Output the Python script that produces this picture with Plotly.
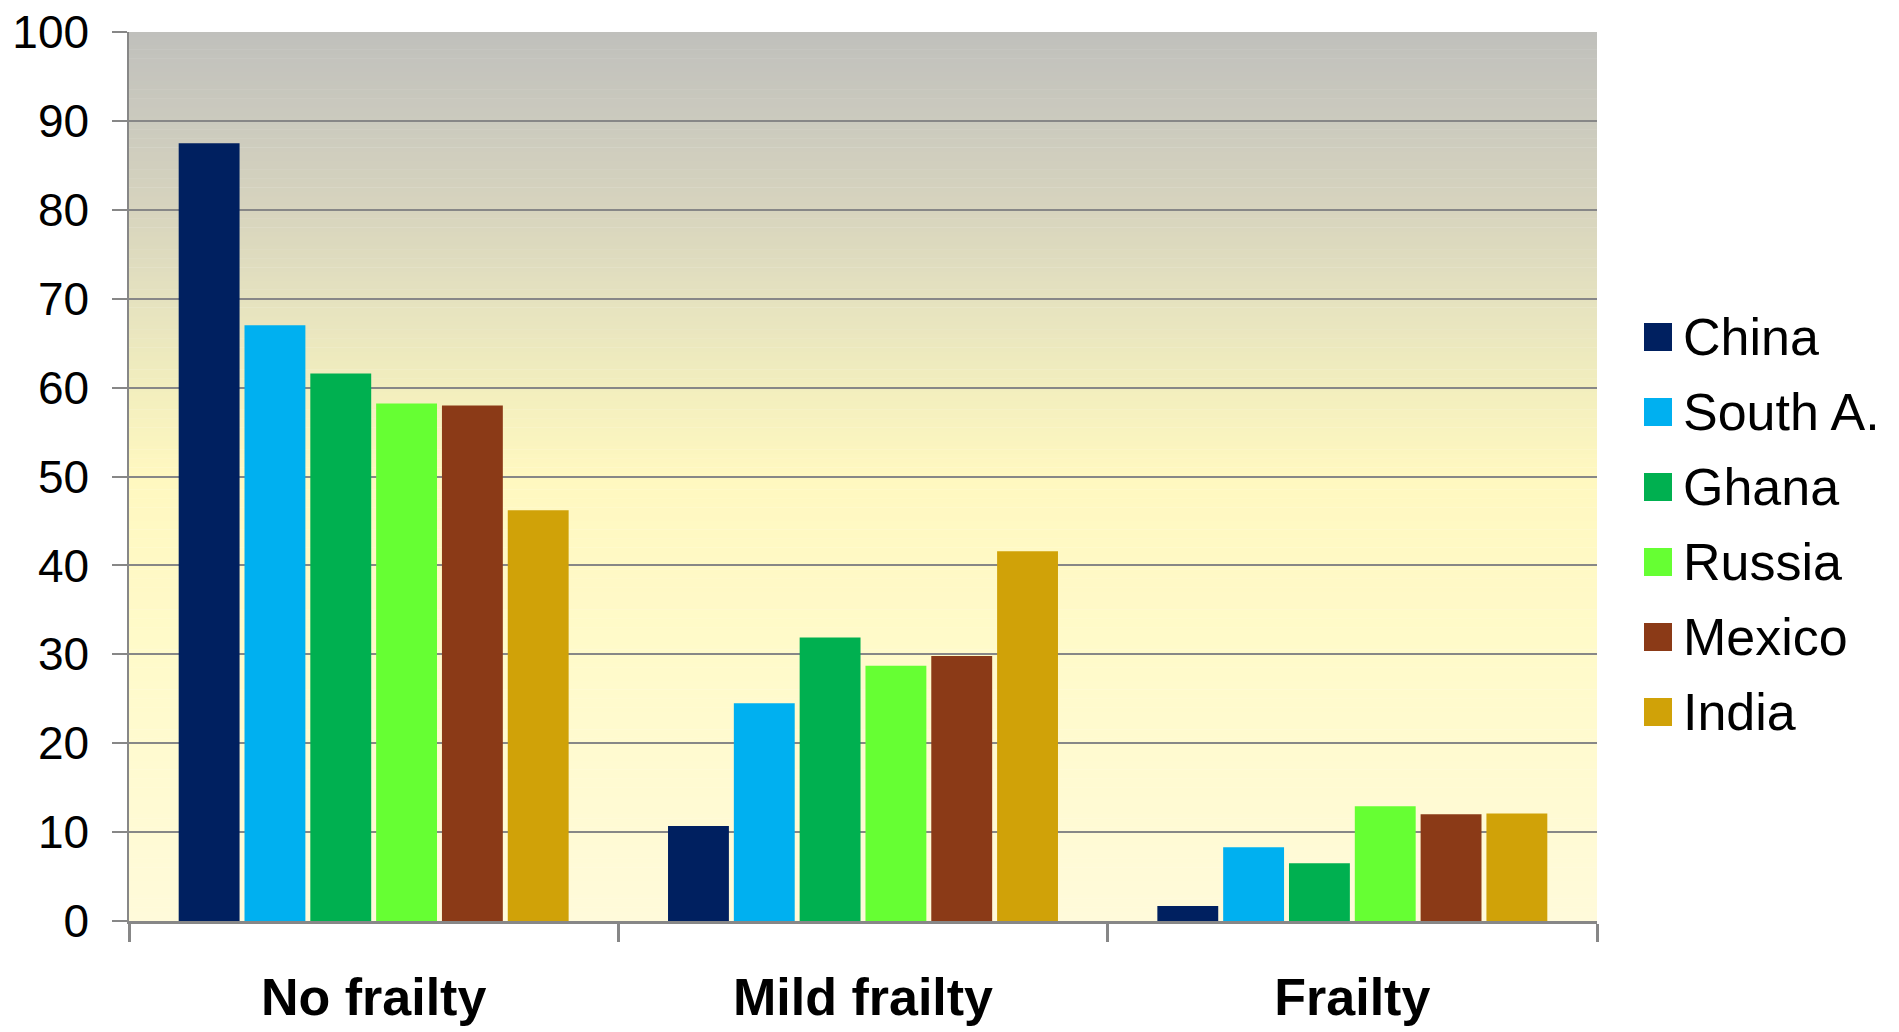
import plotly.graph_objects as go

categories = ["No frailty", "Mild frailty", "Frailty"]
countries = ["China", "South A.", "Ghana", "Russia", "Mexico", "India"]
china = [87.5, 10.7, 1.7]
south_a = [67.0, 24.5, 8.3]
ghana = [61.6, 31.9, 6.5]
russia = [58.2, 28.7, 12.9]
mexico = [58.0, 29.8, 12.0]
india = [46.2, 41.6, 12.1]
series = [china, south_a, ghana, russia, mexico, india]
colors = ["#002060", "#00B0F0", "#00B050", "#66FF33", "#8B3A17", "#D0A208"]
y_ticks = [0, 10, 20, 30, 40, 50, 60, 70, 80, 90, 100]

W, H = 1899, 1032
ML, MR, MT, MB = 129, 302, 32, 111

fig = go.Figure()
for name, vals, col in zip(countries, series, colors):
    fig.add_trace(go.Bar(x=categories, y=vals, name=name, marker_color=col,
                         marker_line_width=0, showlegend=False))

# gradient background (style only)
stops = [(0, (255, 250, 218)), (30, (255, 250, 202)), (50, (255, 248, 192)),
         (60, (242, 238, 190)), (70, (229, 226, 191)), (80, (215, 212, 190)),
         (90, (203, 202, 190)), (100, (192, 192, 188))]

def interp(v):
    for (a, ca), (b, cb) in zip(stops[:-1], stops[1:]):
        if a <= v <= b:
            t = (v - a) / (b - a)
            return tuple(round(ca[i] + (cb[i] - ca[i]) * t) for i in range(3))
    return stops[-1][1]

shapes = []
step = 0.5
v = 0.0
while v < 100:
    c = interp(v + step / 2)
    shapes.append(dict(type="rect", xref="paper", yref="y", x0=0, x1=1, y0=v, y1=v + step + 0.05,
                       fillcolor="rgb(%d,%d,%d)" % c, line_width=0, layer="below"))
    v += step

# manual legend
pw = W - ML - MR
ph = H - MT - MB
annotations = []
row0 = 337
row_step = 75
for i, (name, col) in enumerate(zip(countries, colors)):
    yc = row0 + i * row_step
    yp = (H - MB - yc) / ph
    xs = (1658 - ML) / pw
    shapes.append(dict(type="rect", xref="paper", yref="paper", xsizemode="pixel", ysizemode="pixel",
                       xanchor=xs, yanchor=yp, x0=-14, x1=14, y0=-14, y1=14,
                       fillcolor=col, line_width=0))
    annotations.append(dict(xref="paper", yref="paper", x=(1681 - ML) / pw, y=yp,
                            xanchor="left", yanchor="middle", text=name, showarrow=False,
                            font=dict(family="Liberation Sans, Arial", size=52, color="black")))

fig.update_layout(
    width=W, height=H,
    margin=dict(l=ML, r=MR, t=MT, b=MB, pad=0),
    paper_bgcolor="white", plot_bgcolor="white",
    barmode="group", bargap=0.193, bargroupgap=0.075,
    shapes=shapes, annotations=annotations,
    showlegend=False,
    font=dict(family="Liberation Sans, Arial", color="black"),
)
fig.update_yaxes(range=[0, 100], tickvals=y_ticks, ticktext=[str(t) for t in y_ticks],
                 showgrid=True, gridcolor="#878787", gridwidth=1.5,
                 zeroline=False, showline=True, linecolor="#878787", linewidth=1.5,
                 ticks="outside", ticklen=15, tickwidth=2, tickcolor="#878787",
                 tickfont=dict(family="Liberation Sans, Arial", size=46, color="black"),
                 ticklabelstandoff=14, automargin=False)
fig.update_xaxes(showline=True, linecolor="#878787", linewidth=2.5,
                 ticks="outside", tickson="boundaries", ticklen=18, tickwidth=2.5, tickcolor="#878787",
                 tickfont=dict(family="Liberation Sans, Arial", size=52, color="black", weight="bold"),
                 ticklabelstandoff=29, automargin=False, showgrid=False)

fig.write_html("out.html")
